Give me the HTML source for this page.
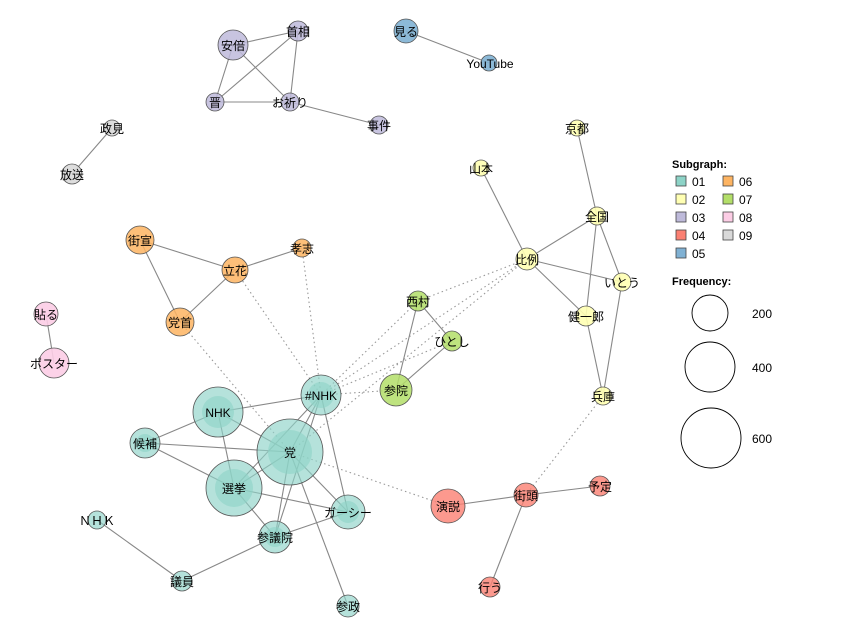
<!DOCTYPE html>
<html><head><meta charset="utf-8"><style>body{margin:0;background:#fff}svg{display:block}text{font-family:"Liberation Sans","Noto Sans CJK JP",sans-serif;font-size:12px}</style></head><body>
<svg width="853" height="640" viewBox="0 0 853 640">
<g stroke="#888" stroke-width="1.1" fill="none">
<path d="M233,45L298,31M233,45L215,102M233,45L290,102M298,31L215,102M298,31L290,102M215,102L290,102M290,102L379,125M406,31L489,63M112,128L72,174M577,128L597,216M481,168L527,259M597,216L527,259M597,216L586,316M597,216L622,282M527,259L622,282M527,259L586,316M586,316L603,396M622,282L603,396M418,301L452,341M418,301L396,390M452,341L396,390M140,240L235,270M140,240L180,322M235,270L180,322M235,270L302,248M46,314L54,363M218,412L321,395M218,412L290,452M218,412L234,488M145,443L218,412M145,443L290,452M145,443L234,488M321,395L290,452M321,395L234,488M321,395L275,537M321,395L348,512M290,452L234,488M290,452L275,537M290,452L348,512M290,452L348,606M234,488L348,512M234,488L275,537M275,537L348,512M275,537L182,581M97,520L182,581M448,506L526,495M526,495L600,486M526,495L490,587"/>
</g>
<g stroke="#999" stroke-width="1.1" fill="none" stroke-dasharray="1.5,3">
<path d="M235,270L321,395M302,248L321,395M180,322L290,452M527,259L418,301M527,259L321,395M418,301L321,395M452,341L321,395M396,390L321,395M527,259L290,452M290,452L448,506M603,396L526,495"/>
</g>
<g stroke="#555" stroke-width="0.8">
<g fill="#bebada" fill-opacity=".85"><circle cx="233" cy="45" r="15"/><circle cx="298" cy="31" r="10"/><circle cx="215" cy="102" r="9"/><circle cx="290" cy="102" r="9"/><circle cx="379" cy="125" r="9"/></g>
<g fill="#80b1d3" fill-opacity=".9"><circle cx="406" cy="31" r="12"/><circle cx="489" cy="63" r="8"/></g>
<g fill="#d9d9d9" fill-opacity=".9"><circle cx="112" cy="128" r="8"/><circle cx="72" cy="174" r="10"/></g>
<g fill="#ffffb3" fill-opacity=".9"><circle cx="577" cy="128" r="8"/><circle cx="481" cy="168" r="8"/><circle cx="597" cy="216" r="9"/><circle cx="527" cy="259" r="11"/><circle cx="622" cy="282" r="9"/><circle cx="586" cy="316" r="10"/><circle cx="603" cy="396" r="9"/></g>
<g fill="#b3de69" fill-opacity=".85"><circle cx="418" cy="301" r="10"/><circle cx="452" cy="341" r="10"/><circle cx="396" cy="390" r="16"/></g>
<g fill="#fdb462" fill-opacity=".85"><circle cx="140" cy="240" r="14"/><circle cx="235" cy="270" r="13"/><circle cx="302" cy="248" r="9"/><circle cx="180" cy="322" r="14"/></g>
<g fill="#fccde5" fill-opacity=".9"><circle cx="46" cy="314" r="12"/><circle cx="54" cy="363" r="15"/></g>
<g fill="#8dd3c7" fill-opacity=".65"><circle cx="321" cy="395" r="20"/><circle cx="218" cy="412" r="25"/><circle cx="145" cy="443" r="15"/><circle cx="290" cy="452" r="33"/><circle cx="234" cy="488" r="28"/><circle cx="348" cy="512" r="17"/><circle cx="275" cy="537" r="16"/><circle cx="97" cy="520" r="9"/><circle cx="182" cy="581" r="10"/><circle cx="348" cy="606" r="11"/></g>
<g fill="#fb8072" fill-opacity=".8"><circle cx="448" cy="506" r="17"/><circle cx="526" cy="495" r="12"/><circle cx="600" cy="486" r="10"/><circle cx="490" cy="587" r="10"/></g>
</g>
<g fill="#8dd3c7" fill-opacity=".6"><circle cx="321" cy="395" r="13"/><circle cx="218" cy="412" r="16"/><circle cx="145" cy="443" r="9"/><circle cx="290" cy="452" r="22"/><circle cx="234" cy="488" r="19"/><circle cx="348" cy="512" r="11"/><circle cx="275" cy="537" r="10"/></g>
<g text-anchor="middle" fill="#000">
<text x="233" y="50">安倍</text><text x="298" y="36">首相</text><text x="215" y="107">晋</text><text x="290" y="107">お祈り</text><text x="379" y="130">事件</text>
<text x="406" y="36">見る</text><text x="490" y="68">YouTube</text><text x="112" y="133">政見</text><text x="72" y="179">放送</text>
<text x="577" y="133">京都</text><text x="481" y="173">山本</text><text x="597" y="221">全国</text><text x="527" y="264">比例</text><text x="622" y="287">いとう</text><text x="586" y="321">健一郎</text><text x="603" y="401">兵庫</text>
<text x="418" y="306">西村</text><text x="452" y="346">ひとし</text><text x="396" y="395">参院</text>
<text x="140" y="245">街宣</text><text x="235" y="275">立花</text><text x="302" y="253">孝志</text><text x="180" y="327">党首</text>
<text x="46" y="319">貼る</text><text x="54" y="368">ポスター</text>
<text x="321" y="400">#NHK</text><text x="218" y="417">NHK</text><text x="145" y="448">候補</text><text x="290" y="457">党</text><text x="234" y="493">選挙</text><text x="348" y="517">ガーシー</text><text x="275" y="542">参議院</text><text x="97" y="525">ＮＨＫ</text><text x="182" y="586">議員</text><text x="348" y="611">参政</text>
<text x="448" y="511">演説</text><text x="526" y="500">街頭</text><text x="600" y="491">予定</text><text x="490" y="592">行う</text>
</g>
<g font-size="11">
<text x="672" y="168" style="font-weight:bold;font-size:11px">Subgraph:</text>
<g stroke="#444" stroke-width="0.8">
<rect x="676" y="176" width="10" height="10" fill="#8dd3c7"/><rect x="676" y="194" width="10" height="10" fill="#ffffb3"/><rect x="676" y="212" width="10" height="10" fill="#bebada"/><rect x="676" y="230" width="10" height="10" fill="#fb8072"/><rect x="676" y="248" width="10" height="10" fill="#80b1d3"/>
<rect x="723" y="176" width="10" height="10" fill="#fdb462"/><rect x="723" y="194" width="10" height="10" fill="#b3de69"/><rect x="723" y="212" width="10" height="10" fill="#fccde5"/><rect x="723" y="230" width="10" height="10" fill="#d9d9d9"/>
</g>
<text x="692" y="186">01</text><text x="692" y="204">02</text><text x="692" y="222">03</text><text x="692" y="240">04</text><text x="692" y="258">05</text>
<text x="739" y="186">06</text><text x="739" y="204">07</text><text x="739" y="222">08</text><text x="739" y="240">09</text>
<text x="672" y="285" style="font-weight:bold;font-size:11px">Frequency:</text>
<g fill="none" stroke="#000" stroke-width="0.9"><circle cx="710" cy="313" r="18"/><circle cx="710" cy="367" r="25"/><circle cx="711" cy="438" r="30"/></g>
<text x="752" y="318">200</text><text x="752" y="372">400</text><text x="752" y="443">600</text>
</g>
</svg>
</body></html>
